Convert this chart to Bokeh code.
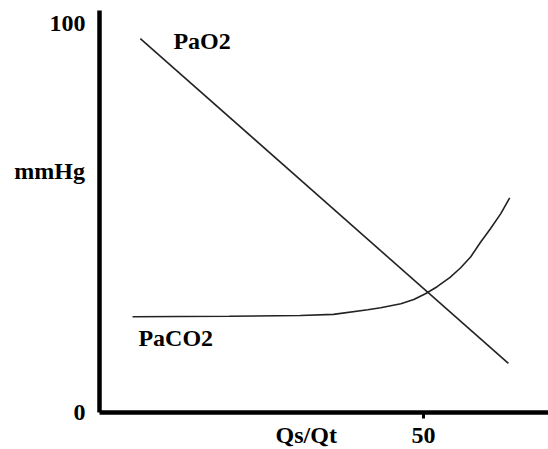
from bokeh.plotting import figure
from bokeh.models import Range1d, FixedTicker, Label, LinearAxis
from bokeh.embed import file_html
from bokeh.resources import INLINE

# ---- data ----
pao2_x = [6.3, 63.1]
pao2_y = [96.0, 12.6]

paco2_x = [5.1, 20.0, 31.0, 36.1, 41.4, 43.4, 46.5, 48.5, 50.3, 52.1, 54.1, 55.7, 57.3, 58.8, 60.3, 61.9, 63.3]
paco2_y = [24.6, 24.7, 24.9, 25.2, 26.4, 26.9, 27.9, 29.0, 30.5, 32.3, 34.7, 37.1, 40.0, 43.7, 47.1, 51.0, 55.1]

y_ticks = [0, 100]
x_ticks = [50]

FONT = "Liberation Serif"
FS = "24px"

p = figure(width=548, height=449, output_backend="svg", toolbar_location=None,
           x_axis_type=None, y_axis_type=None,
           x_range=Range1d(-15.28, 69.29), y_range=Range1d(-9.50, 105.78),
           min_border=0)
p.outline_line_color = None
p.grid.visible = False
p.background_fill_color = "white"
p.border_fill_color = "white"

yax = LinearAxis(fixed_location=0, bounds=(0, 103.2), ticker=FixedTicker(ticks=y_ticks))
xax = LinearAxis(fixed_location=0, bounds=(0, 72), ticker=FixedTicker(ticks=x_ticks))
for ax in (xax, yax):
    ax.axis_line_width = 4.5
    ax.axis_line_color = "black"
    ax.minor_tick_line_color = None
    ax.major_label_text_font = FONT
    ax.major_label_text_font_size = FS
    ax.major_label_text_font_style = "bold"
    ax.major_label_text_color = "black"
yax.major_tick_line_color = None
yax.major_tick_out = 0
yax.major_tick_in = 0
yax.major_label_standoff = 14
xax.major_tick_line_color = "black"
xax.major_tick_line_width = 3
xax.major_tick_out = 6
xax.major_tick_in = 0
xax.major_label_standoff = 10
p.add_layout(yax, "left")
p.add_layout(xax, "below")

# curves
p.line(pao2_x, pao2_y, line_color="#222222", line_width=1.6)
p.line(paco2_x, paco2_y, line_color="#222222", line_width=1.6)

def lab(**kw):
    p.add_layout(Label(text_font=FONT, text_font_size=FS, text_font_style="bold",
                       text_color="black", **kw))

lab(x=31.9, y=-5.9, text="Qs/Qt", text_align="center", text_baseline="alphabetic")
lab(x=-7.7, y=61.9, text="mmHg", text_align="center", text_baseline="alphabetic")
lab(x=11.4, y=95.5, text="PaO2", text_align="left", text_baseline="alphabetic")
lab(x=6.0, y=19.0, text="PaCO2", text_align="left", text_baseline="alphabetic")

open("out.html", "w").write(file_html(p, INLINE))
